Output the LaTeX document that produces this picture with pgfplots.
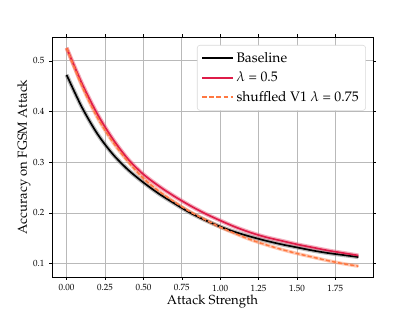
\documentclass[border=0pt]{standalone}
\usepackage[T1]{fontenc}
\usepackage{mathpazo}
\usepackage{pgfplots}
\pgfplotsset{compat=1.18}
\definecolor{redl}{RGB}{222,28,72}
\definecolor{orl}{RGB}{255,120,65}
\begin{document}
\begin{tikzpicture}
\begin{axis}[
  scale only axis, width=232pt, height=173.5pt,
  xmin=-0.095, xmax=1.995, ymin=0.0735, ymax=0.5465,
  xtick={0,0.25,0.5,0.75,1,1.25,1.5,1.75},
  ytick={0.1,0.2,0.3,0.4,0.5},
  xticklabel style={/pgf/number format/fixed,/pgf/number format/fixed zerofill,/pgf/number format/precision=2,font=\fontsize{6.5}{7}\selectfont},
  yticklabel style={/pgf/number format/fixed,/pgf/number format/precision=1,font=\fontsize{6.5}{7}\selectfont},
  scaled ticks=false,
  grid=major, grid style={gray!55, line width=0.5pt},
  tick align=outside, major tick length=2pt, tick style={black},
  axis line style={black, line width=0.6pt},
  xlabel={Attack Strength}, ylabel={Accuracy on FGSM Attack},
  label style={font=\fontsize{9.5}{11}\selectfont},
  xlabel style={yshift=4pt},
  ylabel style={yshift=-5pt},
  legend cell align=left,
  legend style={at={(0.978,0.967)}, anchor=north east, font=\fontsize{10}{12}\selectfont,
    draw=gray!30, rounded corners=2pt, row sep=1.5pt, inner sep=3pt},
  legend image code/.code={\draw[#1] (0pt,0pt) -- (22pt,0pt);},
]
\addlegendimage{draw=black, line width=1.3pt}
\addlegendentry{Baseline}
\addlegendimage{draw=redl, line width=1.3pt}
\addlegendentry{$\lambda$ = 0.5}
\addlegendimage{draw=orl, line width=1.4pt, dash pattern=on 3.5pt off 1.6pt}
\addlegendentry{shuffled V1 $\lambda$ = 0.75}
% shaded bands (drawn first)
\addplot[gray, opacity=0.55, line width=3pt, smooth, forget plot] coordinates {
(0,0.472)(0.1,0.408)(0.2,0.356)(0.3,0.316)(0.4,0.285)(0.5,0.260)(0.6,0.238)(0.7,0.219)(0.8,0.201)(0.9,0.186)(1.0,0.173)(1.1,0.162)(1.2,0.153)(1.3,0.145)(1.4,0.138)(1.5,0.132)(1.6,0.126)(1.7,0.121)(1.8,0.117)(1.9,0.113)};
\addplot[redl!70, opacity=0.5, line width=3pt, smooth, forget plot] coordinates {
(0,0.525)(0.1,0.455)(0.2,0.395)(0.3,0.346)(0.4,0.306)(0.5,0.276)(0.6,0.253)(0.7,0.233)(0.8,0.215)(0.9,0.199)(1.0,0.185)(1.1,0.172)(1.2,0.161)(1.3,0.152)(1.4,0.145)(1.5,0.138)(1.6,0.132)(1.7,0.126)(1.8,0.121)(1.9,0.116)};
\addplot[orl, opacity=0.4, line width=2.5pt, smooth, forget plot] coordinates {
(0,0.525)(0.1,0.450)(0.2,0.388)(0.3,0.340)(0.4,0.301)(0.5,0.268)(0.6,0.243)(0.7,0.222)(0.8,0.203)(0.9,0.187)(1.0,0.172)(1.1,0.159)(1.2,0.147)(1.3,0.137)(1.4,0.128)(1.5,0.120)(1.6,0.113)(1.7,0.106)(1.8,0.100)(1.9,0.095)};
% main lines
\addplot[black, line width=1.2pt, smooth, forget plot] coordinates {
(0,0.472)(0.1,0.408)(0.2,0.356)(0.3,0.316)(0.4,0.285)(0.5,0.260)(0.6,0.238)(0.7,0.219)(0.8,0.201)(0.9,0.186)(1.0,0.173)(1.1,0.162)(1.2,0.153)(1.3,0.145)(1.4,0.138)(1.5,0.132)(1.6,0.126)(1.7,0.121)(1.8,0.117)(1.9,0.113)};
\addplot[redl, line width=1.2pt, smooth, forget plot] coordinates {
(0,0.525)(0.1,0.455)(0.2,0.395)(0.3,0.346)(0.4,0.306)(0.5,0.276)(0.6,0.253)(0.7,0.233)(0.8,0.215)(0.9,0.199)(1.0,0.185)(1.1,0.172)(1.2,0.161)(1.3,0.152)(1.4,0.145)(1.5,0.138)(1.6,0.132)(1.7,0.126)(1.8,0.121)(1.9,0.116)};
\addplot[orl, line width=1.1pt, dash pattern=on 3pt off 1.5pt, smooth, forget plot] coordinates {
(0,0.525)(0.1,0.450)(0.2,0.388)(0.3,0.340)(0.4,0.301)(0.5,0.268)(0.6,0.243)(0.7,0.222)(0.8,0.203)(0.9,0.187)(1.0,0.172)(1.1,0.159)(1.2,0.147)(1.3,0.137)(1.4,0.128)(1.5,0.120)(1.6,0.113)(1.7,0.106)(1.8,0.100)(1.9,0.095)};
\end{axis}
\path[use as bounding box] ([xshift=-37.6pt,yshift=-24.6pt]current axis.south west) rectangle ([xshift=30.4pt,yshift=26.8pt]current axis.north east);
\end{tikzpicture}
\end{document}
